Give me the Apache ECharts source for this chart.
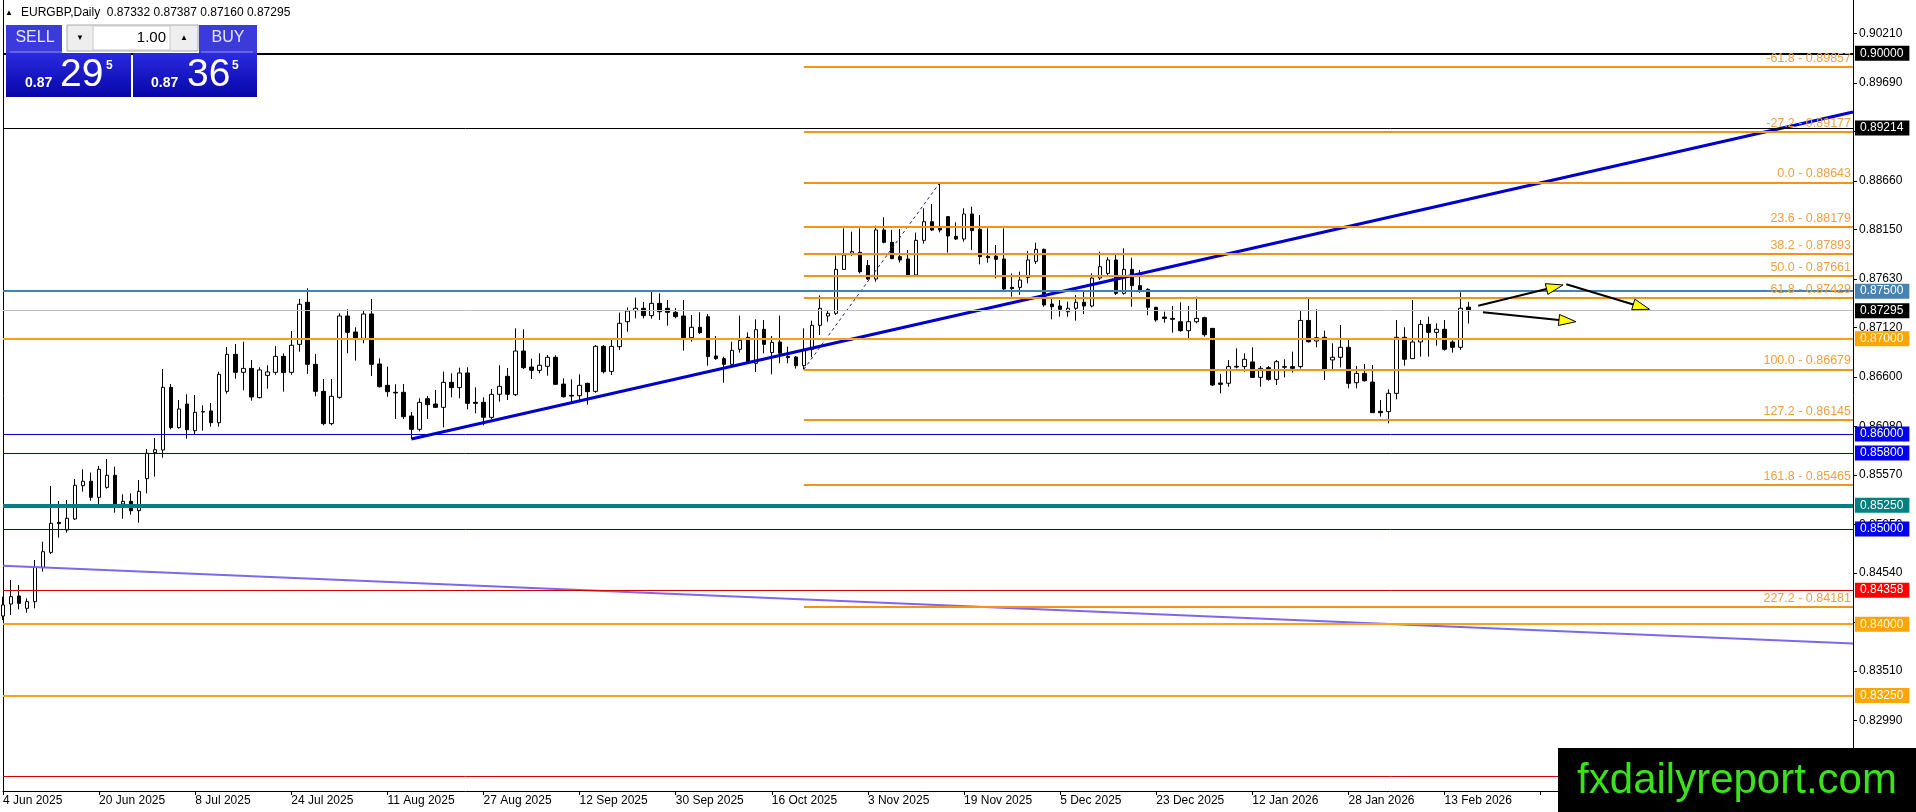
<!DOCTYPE html>
<html><head><meta charset="utf-8">
<script src="https://cdn.jsdelivr.net/npm/echarts@6/dist/echarts.min.js"></script>
<style>html,body{margin:0;padding:0;background:#fff;overflow:hidden}#c{width:1916px;height:812px}</style>
</head><body><div id="c"></div>
<script>
// ---- data ----
const open = [0.84086,0.84212,0.84297,0.84167,0.84237,0.84598,0.84755,0.85071,0.84990,0.85106,
0.85456,0.85502,0.85333,0.85438,0.85565,0.85263,0.85291,0.85193,0.85530,0.85803,
0.85831,0.86489,0.86066,0.86314,0.86034,0.86230,0.86241,0.86118,0.86447,0.86836,
0.86647,0.86689,0.86381,0.86615,0.86647,0.86815,0.86647,0.86941,0.87383,0.86731,
0.86447,0.86108,0.86384,0.87239,0.87071,0.87004,0.87260,0.86735,0.86510,0.86437,
0.86437,0.86188,0.86048,0.86370,0.86314,0.86279,0.86542,0.86486,0.86640,0.86332,
0.86332,0.86174,0.86416,0.86605,0.86412,0.86871,0.86703,0.86668,0.86710,0.86805,
0.86524,0.86405,0.86402,0.86531,0.86447,0.86920,0.86657,0.86917,0.87179,0.87295,
0.87320,0.87243,0.87372,0.87320,0.87278,0.87239,0.87011,0.87120,0.87232,0.86819,
0.86791,0.86731,0.86889,0.87015,0.86742,0.87099,0.86854,0.86966,0.86815,0.86808,
0.86717,0.86889,0.87141,0.87239,0.87267,0.87729,0.87898,0.87908,0.87771,0.87628,
0.88143,0.88013,0.87863,0.87838,0.87670,0.88034,0.88230,0.88160,0.88283,0.88076,
0.88048,0.88311,0.88150,0.87866,0.87869,0.87838,0.87540,0.87540,0.87645,0.87813,
0.87940,0.87365,0.87344,0.87284,0.87320,0.87383,0.87344,0.87638,0.87687,0.87828,
0.87477,0.87729,0.87558,0.87519,0.87330,0.87228,0.87214,0.87179,0.87085,0.87179,
0.87221,0.87109,0.86535,0.86532,0.86703,0.86707,0.86756,0.86594,0.86696,0.86573,
0.86700,0.86707,0.86707,0.87193,0.86976,0.87015,0.86777,0.86805,0.86910,0.86538,
0.86636,0.86545,0.86237,0.86234,0.86426,0.87015,0.86791,0.86966,0.87151,0.87067,
0.87099,0.86966,0.86910,0.87332];
const high = [0.84289,0.84465,0.84412,0.84272,0.84675,0.84867,0.85452,0.85295,0.85305,0.85526,
0.85628,0.85593,0.85663,0.85736,0.85656,0.85365,0.85375,0.85516,0.85841,0.85957,
0.86682,0.86524,0.86356,0.86416,0.86409,0.86300,0.86325,0.86654,0.86913,0.86945,
0.86969,0.86777,0.86700,0.86721,0.86924,0.86847,0.87081,0.87418,0.87530,0.86840,
0.86577,0.86577,0.87267,0.87309,0.87120,0.87302,0.87418,0.86794,0.86707,0.86521,
0.86524,0.86230,0.86374,0.86398,0.86461,0.86654,0.86636,0.86696,0.86700,0.86489,
0.86384,0.86472,0.86721,0.86693,0.87109,0.87099,0.86791,0.86847,0.86829,0.86826,
0.86584,0.86573,0.86626,0.86538,0.86934,0.86934,0.86987,0.87274,0.87330,0.87432,
0.87386,0.87491,0.87477,0.87407,0.87320,0.87407,0.87250,0.87278,0.87260,0.87029,
0.86812,0.86969,0.87243,0.87067,0.87204,0.87197,0.87029,0.87243,0.86917,0.86819,
0.87109,0.87190,0.87456,0.87302,0.87873,0.88160,0.88125,0.88160,0.87828,0.88188,
0.88276,0.88143,0.88153,0.87933,0.88115,0.88371,0.88416,0.88643,0.88290,0.88223,
0.88371,0.88388,0.88300,0.88160,0.87985,0.88160,0.87687,0.87705,0.87922,0.88010,
0.87947,0.87425,0.87407,0.87390,0.87460,0.87495,0.87687,0.87915,0.87856,0.87880,
0.87950,0.87852,0.87722,0.87530,0.87337,0.87284,0.87344,0.87383,0.87344,0.87442,
0.87232,0.87109,0.86630,0.86777,0.86899,0.86847,0.86910,0.86714,0.86714,0.86777,
0.86784,0.86864,0.87302,0.87425,0.87309,0.87085,0.86952,0.87144,0.86987,0.86713,
0.86734,0.86724,0.86356,0.86468,0.87197,0.87120,0.87407,0.87197,0.87232,0.87162,
0.87197,0.86983,0.87488,0.87387];
const low = [0.84044,0.84097,0.84156,0.84121,0.84167,0.84552,0.84738,0.84910,0.84962,0.85095,
0.85393,0.85298,0.85263,0.85424,0.85172,0.85109,0.85151,0.85067,0.85375,0.85551,
0.85750,0.86048,0.86055,0.85950,0.85999,0.86034,0.86076,0.86076,0.86423,0.86580,
0.86458,0.86349,0.86374,0.86475,0.86622,0.86444,0.86622,0.86864,0.86630,0.86395,
0.86090,0.86090,0.86370,0.86847,0.86770,0.86952,0.86608,0.86489,0.86391,0.86157,
0.86157,0.85946,0.86027,0.86157,0.86272,0.86069,0.86384,0.86374,0.86258,0.86216,
0.86090,0.86157,0.86339,0.86356,0.86398,0.86682,0.86577,0.86636,0.86612,0.86514,
0.86381,0.86335,0.86332,0.86307,0.86433,0.86636,0.86619,0.86882,0.87074,0.87214,
0.87214,0.87211,0.87197,0.87137,0.87215,0.86875,0.86969,0.87050,0.86717,0.86777,
0.86538,0.86724,0.86854,0.86735,0.86651,0.86847,0.86626,0.86742,0.86742,0.86686,
0.86679,0.86805,0.87039,0.87179,0.87250,0.87722,0.87873,0.87687,0.87617,0.87600,
0.88003,0.87835,0.87803,0.87668,0.87668,0.87999,0.88132,0.88118,0.87905,0.88038,
0.88020,0.87933,0.87782,0.87800,0.87635,0.87512,0.87442,0.87460,0.87582,0.87785,
0.87337,0.87204,0.87232,0.87232,0.87190,0.87260,0.87330,0.87617,0.87659,0.87460,
0.87463,0.87337,0.87484,0.87246,0.87179,0.87169,0.87064,0.87074,0.87004,0.87162,
0.87022,0.86503,0.86426,0.86496,0.86689,0.86654,0.86587,0.86496,0.86559,0.86514,
0.86594,0.86644,0.86686,0.86959,0.86910,0.86566,0.86671,0.86699,0.86479,0.86479,
0.86549,0.86223,0.86181,0.86111,0.86363,0.86717,0.86787,0.86812,0.86812,0.86927,
0.86875,0.86854,0.86882,0.87160];
const close = [0.84202,0.84289,0.84219,0.84237,0.84598,0.84762,0.85060,0.85057,0.85113,0.85460,
0.85502,0.85333,0.85628,0.85565,0.85225,0.85291,0.85193,0.85396,0.85796,0.85834,
0.86489,0.86066,0.86262,0.86044,0.86227,0.86234,0.86118,0.86626,0.86836,0.86647,
0.86689,0.86388,0.86672,0.86651,0.86815,0.86644,0.86931,0.87362,0.86731,0.86447,
0.86108,0.86395,0.87239,0.87067,0.87004,0.87260,0.86731,0.86496,0.86444,0.86430,
0.86181,0.86048,0.86332,0.86307,0.86279,0.86542,0.86486,0.86640,0.86321,0.86321,
0.86174,0.86416,0.86500,0.86416,0.86871,0.86696,0.86668,0.86721,0.86805,0.86521,
0.86391,0.86398,0.86510,0.86444,0.86920,0.86654,0.86920,0.87162,0.87292,0.87320,
0.87243,0.87372,0.87284,0.87278,0.87232,0.87011,0.87120,0.87064,0.86812,0.86791,
0.86731,0.86878,0.86983,0.86749,0.87095,0.86941,0.86962,0.86847,0.86801,0.86717,
0.86889,0.87141,0.87320,0.87267,0.87729,0.87880,0.87915,0.87705,0.87628,0.88143,
0.88013,0.87842,0.87828,0.87670,0.88034,0.88230,0.88143,0.88143,0.88080,0.88048,
0.88311,0.88136,0.87863,0.87852,0.87835,0.87523,0.87526,0.87617,0.87828,0.87940,
0.87355,0.87337,0.87309,0.87320,0.87383,0.87344,0.87638,0.87757,0.87828,0.87477,
0.87729,0.87558,0.87512,0.87330,0.87197,0.87214,0.87204,0.87085,0.87179,0.87214,
0.87043,0.86514,0.86521,0.86707,0.86710,0.86784,0.86594,0.86689,0.86573,0.86759,
0.86707,0.86689,0.87193,0.86969,0.87011,0.86671,0.86805,0.86910,0.86531,0.86636,
0.86559,0.86223,0.86223,0.86426,0.87015,0.86784,0.86966,0.87151,0.87067,0.87099,
0.86889,0.86910,0.87320,0.87295];

const tickLabels = ['4 Jun 2025','20 Jun 2025','8 Jul 2025','24 Jul 2025','11 Aug 2025','27 Aug 2025',
  '12 Sep 2025','30 Sep 2025','16 Oct 2025','3 Nov 2025','19 Nov 2025','5 Dec 2025','23 Dec 2025',
  '12 Jan 2026','28 Jan 2026','13 Feb 2026'];
const barsPerTick = 12;
const slotCount = 232;               // bars + empty space on the right
const categories = Array.from({length: slotCount}, (_, i) => String(i));

const yTicks = [0.82990,0.83510,0.84020,0.84540,0.85050,0.85570,0.86080,0.86600,0.87120,
  0.87630,0.88150,0.88660,0.89180,0.89690,0.90210];
const yMin = 0.82247, yMax = 0.90560;

const levelPrices = [0.90000,0.89214,0.87500,0.87295,0.87000,0.86000,0.85800,0.85250,0.85000,0.84358,0.84000,0.83250,0.82400];
const fibRatios = [-61.8,-27.2,0.0,23.6,38.2,50.0,61.8,100.0,127.2,161.8,227.2];
const fibPrices = [0.89857,0.89177,0.88643,0.88179,0.87893,0.87661,0.87429,0.86679,0.86145,0.85465,0.84181];
const fibStartBar = 100;
const fibDiagonal = [[100,0.86679],[117,0.88643]];
const trendBlue = [[51,0.85946],[231,0.89383]];
const trendPurple = [[0,0.84614],[231,0.83796]];
const arrows = [[184.2,0.87347,194.8,0.87565],[195.2,0.87572,205.6,0.87309],[184.8,0.87278,196.4,0.87179]];

// ---- styles ----
const levelLineColors = ['#000000','#000000','#4682B4','#C0C0C0','#F4A21F','#0000CD','#0000CD','#008080','#0000CD','#D40000','#F4A21F','#F4A21F','#D40000'];
const levelLineWidths = [2,1,2,1,2,1,1,4,1,1,2,2,1];
const levelTagColors = ['#000000','#000000','#4682B4','#000000','#FFA500','#0000F0','#0000F0','#008080','#0000F0','#FF0000','#FFA500','#FFA500','#FF0000'];
const FONT = '"Liberation Sans", Arial, sans-serif';
const fmt5 = v => (Number(v) + 1e-9).toFixed(5);

const candleData = open.map((o, i) => [o, close[i], low[i], high[i]]);
const last = slotCount - 1;

const levelLines = levelPrices.map((p, i) => [
  { coord: [0, p], lineStyle: { color: levelLineColors[i], width: levelLineWidths[i], type: 'solid' },
    label: { show: true, position: 'end', distance: 2, formatter: fmt5(p), color: '#ffffff',
      backgroundColor: levelTagColors[i], padding: [2, 6, 1, 5], fontSize: 12, fontFamily: FONT } },
  { coord: [last, p] }
]);
const fibLines = fibPrices.map((p, i) => [
  { coord: [fibStartBar, p], lineStyle: { color: '#F0951A', width: 2, type: 'solid' },
    label: { show: true, position: 'insideEndTop', distance: 2, formatter: fibRatios[i].toFixed(1) + ' - ' + fmt5(p),
      color: '#EEA040', fontSize: 12.5, fontFamily: FONT } },
  { coord: [last, p] }
]);
const trendLines = [
  [{ coord: trendPurple[0], lineStyle: { color: '#7B68EE', width: 2, type: 'solid' }, label: { show: false } }, { coord: trendPurple[1] }],
  [{ coord: trendBlue[0], lineStyle: { color: '#0000CD', width: 3, type: 'solid' }, label: { show: false } }, { coord: trendBlue[1] }],
  [{ coord: fibDiagonal[0], lineStyle: { color: '#20208A', width: 1, type: [3, 3] }, label: { show: false } }, { coord: fibDiagonal[1] }]
];

const chart = echarts.init(document.getElementById('c'), null, { renderer: 'canvas' });

const panel = [];
function rect(x, y, w, h, fill, stroke) {
  panel.push({ type: 'rect', z: 100, shape: { x, y, width: w, height: h }, style: { fill, stroke: stroke || null, lineWidth: 1 } });
}
function txt(x, y, text, font, fill, align, vAlign) {
  panel.push({ type: 'text', z: 101, x, y, style: { text, font, fill, align: align || 'left', verticalAlign: vAlign || 'middle' } });
}
const boxGrad = new echarts.graphic.LinearGradient(0, 0, 0, 1, [{ offset: 0, color: '#2A2AE0' }, { offset: 1, color: '#0606A8' }]);
// header
txt(5, 13, '▲', '8px ' + FONT, '#000');
txt(21, 13, 'EURGBP,Daily  0.87332 0.87387 0.87160 0.87295', '12px ' + FONT, '#000');
// trade panel
rect(6, 25, 56, 28, '#3B3BDB');
rect(199, 25, 58, 28, '#3B3BDB');
panel.push({ type: 'line', z: 101, shape: { x1: 10, y1: 52, x2: 62, y2: 52 }, style: { stroke: '#8C8CF0', lineWidth: 1 } });
panel.push({ type: 'line', z: 101, shape: { x1: 201, y1: 52, x2: 253, y2: 52 }, style: { stroke: '#8C8CF0', lineWidth: 1 } });
rect(67, 25, 131, 26, '#EEEEEE', '#A8A8A8');
rect(93, 26, 77, 24, '#FFFFFF', '#C8C8C8');
txt(35, 38, 'SELL', '16px ' + FONT, '#E6E6FF', 'center');
txt(228, 38, 'BUY', '16px ' + FONT, '#E6E6FF', 'center');
txt(80, 38, '▼', '8px ' + FONT, '#000', 'center');
txt(184, 38, '▲', '8px ' + FONT, '#000', 'center');
txt(166, 38, '1.00', '15px ' + FONT, '#000', 'right');
rect(6, 53, 125, 44, boxGrad);
rect(133, 53, 124, 44, boxGrad);
txt(25, 83, '0.87', 'bold 14px ' + FONT, '#fff');
txt(60, 75, '29', '39px ' + FONT, '#fff');
txt(106, 66, '5', 'bold 12px ' + FONT, '#fff');
txt(151, 83, '0.87', 'bold 14px ' + FONT, '#fff');
txt(187, 75, '36', '39px ' + FONT, '#fff');
txt(232, 66, '5', 'bold 12px ' + FONT, '#fff');
// watermark
rect(1558, 748, 358, 64, '#000000');
txt(1737, 781, 'fxdailyreport.com', '42px ' + FONT, '#3CE11E', 'center');

chart.setOption({
  animation: false,
  backgroundColor: '#ffffff',
  textStyle: { fontFamily: FONT },
  grid: { left: 3, right: 63, top: 0, bottom: 21, containLabel: false },
  xAxis: {
    type: 'category', data: categories, boundaryGap: false,
    axisLine: { onZero: false, lineStyle: { color: '#000', width: 1 } },
    axisTick: { show: true, interval: barsPerTick - 1, length: 4, lineStyle: { color: '#000' } },
    axisLabel: { interval: barsPerTick - 1, align: 'left', margin: 4, fontSize: 12, color: '#000', fontFamily: FONT,
      formatter: (v, idx) => (idx % barsPerTick === 0 && tickLabels[idx / barsPerTick]) || '' },
    splitLine: { show: false }
  },
  yAxis: [
    { type: 'value', position: 'right', min: yMin, max: yMax, scale: true,
      axisLine: { show: true, lineStyle: { color: '#000', width: 1 } },
      axisTick: { show: true, length: 4, customValues: yTicks, lineStyle: { color: '#000' } },
      axisLabel: { show: true, customValues: yTicks, margin: 6, fontSize: 12, color: '#000', fontFamily: FONT,
        formatter: v => fmt5(v) },
      splitLine: { show: false } },
    { type: 'value', position: 'left', min: yMin, max: yMax, scale: true,
      axisLine: { show: true, lineStyle: { color: '#000', width: 1 } },
      axisTick: { show: false }, axisLabel: { show: false }, splitLine: { show: false } }
  ],
  series: [
    {
      type: 'candlestick', name: 'EURGBP', data: candleData, barWidth: 4, z: 2,
      itemStyle: { color: '#ffffff', color0: '#000000', borderColor: '#000000', borderColor0: '#000000', borderWidth: 1 },
      markLine: { silent: true, symbol: ['none', 'none'], z: 5, animation: false,
        data: [...trendLines, ...levelLines, ...fibLines] }
    },
    {
      type: 'custom', name: 'arrows', data: arrows, encode: { x: [0, 2], y: [1, 3] }, z: 6, clip: false, silent: true,
      renderItem(params, api) {
        const bw = api.size([1, 0])[0];
        const pt = (xv, yv) => { const b = Math.floor(xv); const p = api.coord([b, yv]); return [p[0] + (xv - b) * bw, p[1]]; };
        const a = pt(api.value(0), api.value(1));
        const b = pt(api.value(2), api.value(3));
        const dx = b[0] - a[0], dy = b[1] - a[1], L = Math.hypot(dx, dy), ux = dx / L, uy = dy / L;
        const hl = 17, hw = 5.5;
        const base = [b[0] - ux * hl, b[1] - uy * hl];
        return { type: 'group', children: [
          { type: 'line', shape: { x1: a[0], y1: a[1], x2: base[0], y2: base[1] }, style: { stroke: '#000', lineWidth: 2 } },
          { type: 'polygon', shape: { points: [b, [base[0] - uy * hw, base[1] + ux * hw], [base[0] + uy * hw, base[1] - ux * hw]] },
            style: { fill: '#FFFF00', stroke: '#000', lineWidth: 1 } }
        ] };
      }
    }
  ],
  graphic: panel
});
</script>
</body></html>
